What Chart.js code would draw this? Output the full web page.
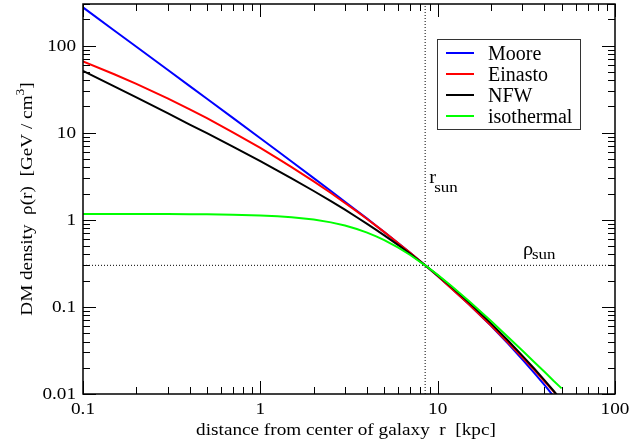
<!DOCTYPE html>
<html>
<head>
<meta charset="utf-8">
<script src="https://cdn.jsdelivr.net/npm/chart.js@4.4.1/dist/chart.umd.min.js"></script>
<style>
    html, body { margin: 0; padding: 0; background: #fff; }
    #wrap { width: 630px; height: 445px; }
</style>
</head>
<body>
<div id="wrap"><canvas id="dmChart" width="630" height="445"></canvas></div>
<script>
// radius grid [kpc] and DM densities [GeV/cm^3]
const radius     = [0.1, 0.15, 0.2, 0.3, 0.4, 0.5, 0.7, 1, 1.25, 1.5, 2, 2.5, 3, 3.5, 4, 4.5, 5, 6, 7, 8.5, 10, 12, 15, 20, 25, 30, 35, 40, 45, 50];
const moore      = [274, 149, 97.0, 52.8, 34.2, 24.5, 14.8, 8.62, 6.15, 4.67, 3.01, 2.14, 1.61, 1.27, 1.03, 0.854, 0.722, 0.537, 0.417, 0.300, 0.226, 0.163, 0.107, 0.0605, 0.0377, 0.0250, 0.0175, 0.0127, 0.00946, 0.00725];
const einasto    = [65.9, 46.9, 36.3, 24.7, 18.5, 14.7, 10.1, 6.68, 5.08, 4.03, 2.76, 2.03, 1.56, 1.25, 1.02, 0.851, 0.722, 0.539, 0.417, 0.300, 0.226, 0.162, 0.107, 0.0610, 0.0387, 0.0264, 0.0189, 0.0140, 0.0107, 0.0084];
const nfw        = [51.3, 34.0, 25.4, 16.8, 12.4, 9.86, 6.91, 4.70, 3.67, 2.99, 2.14, 1.64, 1.31, 1.07, 0.899, 0.767, 0.663, 0.511, 0.406, 0.300, 0.230, 0.169, 0.113, 0.0647, 0.0409, 0.0276, 0.0196, 0.0144, 0.0109, 0.00845];
const isothermal = [1.167, 1.166, 1.165, 1.163, 1.160, 1.155, 1.145, 1.122, 1.098, 1.071, 1.006, 0.934, 0.858, 0.783, 0.712, 0.645, 0.584, 0.478, 0.394, 0.300, 0.233, 0.173, 0.117, 0.0687, 0.0449, 0.0315, 0.0233, 0.0180, 0.0142, 0.0116];

// solar position markers
const rSun = 8.5;
const rhoSun = 0.3;

// axis ranges and labelled ticks
const xMin = 0.1, xMax = 100;
const yMin = 0.01, yMax = 300;
const xTicks = [0.1, 1, 10, 100];
const yTicks = [0.01, 0.1, 1, 10, 100];

const serif = "'Liberation Serif', 'DejaVu Serif', serif";
// the original lettering is a little wider than Liberation Serif
const SX = 1.13;

function points(ys) {
    return radius.map((r, i) => ({ x: r, y: ys[i] }));
}

function curve(label, ys, color, order) {
    return {
        label: label,
        data: points(ys),
        borderColor: color,
        backgroundColor: color,
        borderWidth: 2,
        showLine: true,
        pointRadius: 0,
        tension: 0,
        order: order
    };
}

function dotted(data) {
    return {
        label: '',
        data: data,
        borderColor: '#000',
        borderWidth: 1,
        borderDash: [1, 2],
        showLine: true,
        pointRadius: 0,
        order: 10,
        inLegend: false
    };
}

// the scales should not add room for their end labels
function noPadding(scale) {
    scale.paddingLeft = 0;
    scale.paddingRight = 0;
    scale.paddingTop = 0;
    scale.paddingBottom = 0;
}

function wideText(ctx, text, x, y, align) {
    ctx.save();
    ctx.translate(x, y);
    ctx.scale(SX, 1);
    ctx.textAlign = align;
    ctx.fillText(text, 0, 0);
    ctx.restore();
}

// inward ticks on all four sides, the frame, tick labels, legend and titles
const decorations = {
    id: 'decorations',
    afterDatasetsDraw(chart) {
        const { ctx, chartArea: a, scales: { x, y } } = chart;
        ctx.save();

        // tick marks
        ctx.strokeStyle = '#000';
        ctx.lineWidth = 1;
        ctx.beginPath();
        for (let e = -2; e <= 2; e++) {
            for (let m = 1; m <= 9; m++) {
                const v = m * Math.pow(10, e);
                const len = m === 1 ? 13 : 7;
                if (v >= x.min && v <= x.max) {
                    const px = Math.round(x.getPixelForValue(v)) + 0.5;
                    ctx.moveTo(px, a.bottom); ctx.lineTo(px, a.bottom - len);
                    ctx.moveTo(px, a.top); ctx.lineTo(px, a.top + len);
                }
                if (v >= y.min && v <= y.max) {
                    const py = Math.round(y.getPixelForValue(v)) + 0.5;
                    ctx.moveTo(a.left, py); ctx.lineTo(a.left + len, py);
                    ctx.moveTo(a.right, py); ctx.lineTo(a.right - len, py);
                }
            }
        }
        ctx.stroke();

        // frame
        ctx.lineWidth = 1.5;
        ctx.strokeRect(a.left, a.top, a.right - a.left, a.bottom - a.top);

        // tick labels
        ctx.fillStyle = '#000';
        ctx.font = '17px ' + serif;
        ctx.textBaseline = 'alphabetic';
        xTicks.forEach(v => wideText(ctx, String(v), x.getPixelForValue(v), a.bottom + 20, 'center'));
        ctx.textBaseline = 'middle';
        yTicks.forEach(v => wideText(ctx, String(v), a.left - 7, y.getPixelForValue(v) + 1, 'right'));

        // legend box
        const curves = chart.data.datasets.filter(d => d.inLegend !== false);
        const bx = a.right - 178, by = a.top + 35, bw = 143, bh = 90;
        ctx.fillStyle = '#fff';
        ctx.fillRect(bx, by, bw, bh);
        ctx.lineWidth = 1;
        ctx.strokeStyle = '#333';
        ctx.strokeRect(bx + 0.5, by + 0.5, bw, bh);
        ctx.font = '20px ' + serif;
        ctx.textBaseline = 'alphabetic';
        ctx.textAlign = 'left';
        curves.forEach((d, i) => {
            const ly = by + 14 + i * 21;
            ctx.strokeStyle = d.borderColor;
            ctx.lineWidth = 2;
            ctx.beginPath();
            ctx.moveTo(bx + 9, ly);
            ctx.lineTo(bx + 37, ly);
            ctx.stroke();
            ctx.fillStyle = '#000';
            ctx.fillText(d.label, bx + 51, ly + 7);
        });

        // r_sun and rho_sun labels
        ctx.fillStyle = '#000';
        ctx.textBaseline = 'alphabetic';
        const sx = x.getPixelForValue(rSun);
        ctx.font = '18px ' + serif;
        wideText(ctx, 'r', sx + 4, a.top + 179, 'left');
        ctx.font = '15px ' + serif;
        wideText(ctx, 'sun', sx + 9, a.top + 188, 'left');
        const sy = y.getPixelForValue(rhoSun);
        ctx.font = '18px ' + serif;
        wideText(ctx, '\u03c1', a.right - 92, sy - 10, 'left');
        ctx.font = '15px ' + serif;
        wideText(ctx, 'sun', a.right - 83, sy - 6, 'left');

        // axis titles
        ctx.font = '17px ' + serif;
        wideText(ctx, 'distance from center of galaxy  r  [kpc]', (a.left + a.right) / 2 - 3, 435, 'center');

        const main = 'DM density  \u03c1(r)  [GeV / cm';
        const tail = ']';
        ctx.font = '17px ' + serif;
        const wMain = ctx.measureText(main).width;
        const wTail = ctx.measureText(tail).width;
        ctx.font = '12px ' + serif;
        const wSup = ctx.measureText('3').width;
        const total = wMain + wSup + wTail;
        ctx.translate(26, (a.top + a.bottom) / 2);
        ctx.rotate(-Math.PI / 2);
        ctx.scale(SX, 1);
        ctx.textAlign = 'left';
        let tx = -total / 2;
        ctx.font = '17px ' + serif;
        ctx.fillText(main, tx, 6);
        tx += wMain;
        ctx.font = '12px ' + serif;
        ctx.fillText('3', tx, -2);
        tx += wSup;
        ctx.font = '17px ' + serif;
        ctx.fillText(tail, tx, 6);

        ctx.restore();
    }
};

new Chart(document.getElementById('dmChart'), {
    type: 'scatter',
    data: {
        datasets: [
            curve('Moore', moore, '#0000ff', 3),
            curve('Einasto', einasto, '#ff0000', 2),
            curve('NFW', nfw, '#000000', 1),
            curve('isothermal', isothermal, '#00ff00', 0),
            dotted([{ x: rSun, y: yMin }, { x: rSun, y: yMax }]),
            dotted([{ x: xMin, y: rhoSun }, { x: xMax, y: rhoSun }])
        ]
    },
    options: {
        responsive: false,
        animation: false,
        devicePixelRatio: 1,
        layout: { padding: { left: 0, right: 15, top: 4, bottom: 0 } },
        plugins: {
            legend: { display: false },
            tooltip: { enabled: false }
        },
        scales: {
            x: {
                type: 'logarithmic',
                min: xMin,
                max: xMax,
                afterBuildTicks: scale => { scale.ticks = xTicks.map(v => ({ value: v })); },
                afterFit: scale => { scale.height = 51; noPadding(scale); },
                grid: { display: false, drawTicks: false },
                border: { display: false },
                ticks: { display: false }
            },
            y: {
                type: 'logarithmic',
                min: yMin,
                max: yMax,
                afterBuildTicks: scale => { scale.ticks = yTicks.map(v => ({ value: v })); },
                afterFit: scale => { scale.width = 83; noPadding(scale); },
                grid: { display: false, drawTicks: false },
                border: { display: false },
                ticks: { display: false }
            }
        }
    },
    plugins: [decorations]
});
</script>
</body>
</html>
